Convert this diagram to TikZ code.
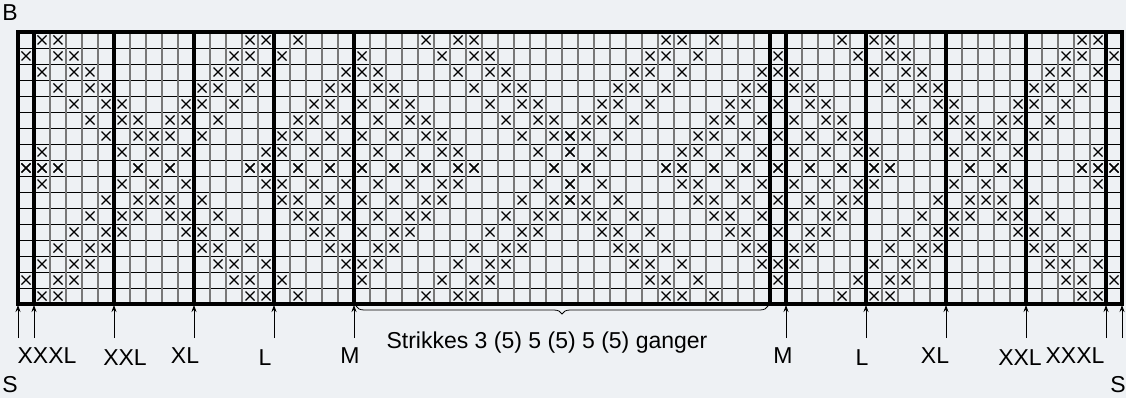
\documentclass[tikz,border=0pt]{standalone}
\usepackage{fontspec}
\setmainfont{Liberation Sans}
\usetikzlibrary{arrows.meta,decorations.pathreplacing}
\definecolor{chartbg}{RGB}{238,241,244}
\definecolor{gridgray}{RGB}{120,120,120}
\tikzset{
  thinrow/.style={black, line width=0.9pt},
  thincol/.style={gridgray, line width=1.5pt},
  thickline/.style={black, line width=3.2pt},
  xmark/.style={black, line width=1.2pt},
  sizearrow/.style={-{Stealth[length=7pt,width=5pt]}, line width=0.8pt},
  sizelabel/.style={font=\fontsize{23}{27}\selectfont, anchor=base, inner sep=0pt},
}
% one x in cell (column, row)
\newcommand{\stitch}[2]{%
  \draw[xmark] ({26+16*(#1)-4.5},{40+16*(#2)-4.5}) -- ++(9,9)
               ({26+16*(#1)-4.5},{40+16*(#2)+4.5}) -- ++(9,-9);}
\begin{document}
\begin{tikzpicture}[x=1pt,y=-1pt]
\useasboundingbox[fill=chartbg] (0,0) rectangle (1126,398);

% Grid
\foreach \r in {1,...,16}
  \draw[thinrow] (18,{32+16*\r}) -- (1122,{32+16*\r});
\foreach \c in {1,...,68}
  \draw[thincol] ({18+16*\c},32) -- ({18+16*\c},304);

% Stitches (left half, mirrored left-right and top-bottom)
\foreach \r/\cols in {
  0/{1,2,14,15,17,25,27,28},
  1/{0,2,3,13,14,16,21,26,28,29},
  2/{1,3,4,12,13,15,20,21,22,27,29,30},
  3/{2,4,5,11,12,14,19,20,22,23,28,30,31},
  4/{3,5,6,10,11,13,18,19,21,23,24,29,31,32},
  5/{4,6,7,9,10,12,17,18,20,22,24,25,30,32,33},
  6/{5,7,8,9,11,16,17,19,21,23,25,26,31,33,34},
  7/{1,6,8,10,15,16,18,20,22,24,26,27,32,34},
  8/{0,1,2,7,9,14,15,17,19,21,23,25,27,28,33}}{
  \foreach \c in \cols {
    \stitch{\c}{\r}
    \stitch{68-\c}{\r}
    \stitch{\c}{16-\r}
    \stitch{68-\c}{16-\r}
  }
}

% Size borders
\draw[thickline] (18,32) rectangle (1122,304);
\foreach \c in {1,6,11,16,21,47,48,53,58,63,68}
  \draw[thickline] ({18+16*\c},32) -- ({18+16*\c},304);

% Size markers
\foreach \n/\c in {sl/0,xxxll/1,xxll/6,xll/11,ll/16,ml/21,mr/48,lr/53,xlr/58,xxlr/63,xxxlr/68,sr/69}{
  \coordinate (top\n) at ({18+16*\c},305);
  \coordinate (end\n) at ({18+16*\c},338);
  \draw[sizearrow] (end\n) -- (top\n);
}

% Size labels
\node[sizelabel] (lblB) at (10,21) {B};
\node[sizelabel] (lblsl) at (10,392) {S};
\node[sizelabel] (lblxxxll) at (47,363) {XXXL};
\node[sizelabel] (lblxxll) at (125,365) {XXL};
\node[sizelabel] (lblxll) at (185,363) {XL};
\node[sizelabel] (lblll) at (265,365) {L};
\node[sizelabel] (lblml) at (350,363) {M};
\node[sizelabel] (lblmr) at (783,363) {M};
\node[sizelabel] (lbllr) at (862,365) {L};
\node[sizelabel] (lblxlr) at (935,363) {XL};
\node[sizelabel] (lblxxlr) at (1020,365) {XXL};
\node[sizelabel] (lblxxxlr) at (1075,363) {XXXL};
\node[sizelabel] (lblsr) at (1118,392) {S};

% Repeat brace
\coordinate (repl) at (356,306);
\coordinate (repr) at (768,306);
\draw[line width=0.8pt, decorate, decoration={brace,mirror,amplitude=8pt}] (repl) -- (repr);
\node[sizelabel] (lblrep) at (547,348) {Strikkes 3 (5) 5 (5) 5 (5) ganger};
\end{tikzpicture}
\end{document}
